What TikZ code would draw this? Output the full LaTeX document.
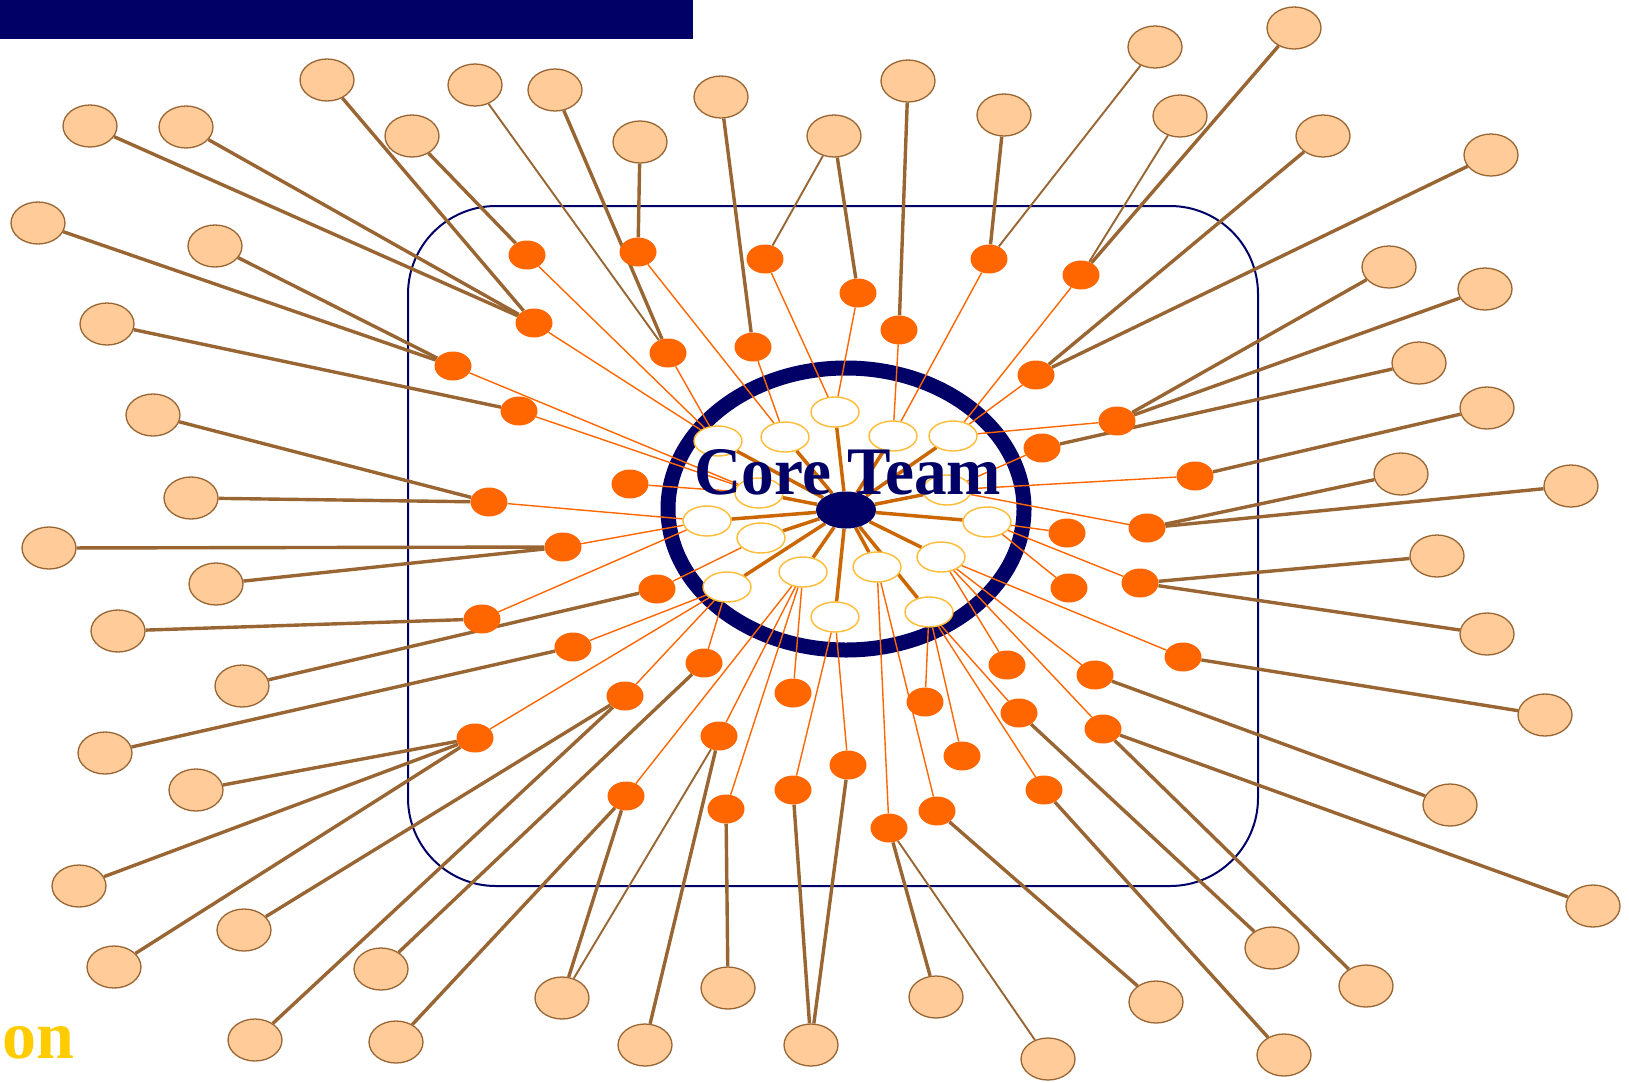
\documentclass[tikz,border=0pt]{standalone}
\usepackage{fontspec}
\usepackage{graphicx}
\setmainfont{Liberation Serif}
\usetikzlibrary{shapes.geometric}
\pgfdeclarelayer{bg}
\pgfdeclarelayer{lines}
\pgfsetlayers{bg,lines,main}
\definecolor{navy}{HTML}{000066}
\definecolor{orng}{HTML}{FF6600}
\definecolor{peachc}{HTML}{FFCC99}
\definecolor{brn}{HTML}{996633}
\definecolor{spk}{HTML}{CC6600}
\definecolor{goldc}{HTML}{FFBB33}
\definecolor{ontext}{HTML}{FFCC00}
\begin{document}
\begin{tikzpicture}[x=1pt,y=-1pt,
  peach/.style={ellipse, draw=brn, fill=peachc, line width=1.3pt, minimum width=54pt, minimum height=42pt, inner sep=0pt},
  odot/.style={ellipse, fill=orng, minimum width=37pt, minimum height=29pt, inner sep=0pt},
  innerell/.style={ellipse, draw=goldc, fill=white, line width=1.4pt, minimum width=48pt, minimum height=30pt, inner sep=0pt},
  hubst/.style={ellipse, fill=navy, minimum width=60pt, minimum height=37pt, inner sep=0pt},
  bline/.style={draw=brn, line width=3.4pt},
  bthin/.style={draw=brn, line width=1.9pt},
  oline/.style={draw=orng, line width=1.4pt},
  spoke/.style={draw=spk, line width=3.5pt},
  bigtext/.style={font=\bfseries\fontsize{68}{68}\selectfont, inner sep=0pt}
]
\useasboundingbox (0,0) rectangle (1629,1082);
\fill[navy] (0,0) rectangle (693,39);

\begin{pgfonlayer}{bg}
\draw[navy, line width=2pt, rounded corners=88pt] (408,206) rectangle (1258,886);
\draw[navy, line width=15pt] (846,509) ellipse [x radius=178pt, y radius=141pt];
\end{pgfonlayer}

% inner ellipses
\foreach \n/\x/\y in {1/718/441,2/785/437,3/835/412,4/893/436,5/953/436,6/759/493,7/947/490,8/707/521,9/761/538,10/987/522,11/941/557,12/727/587,13/803/572,14/877/567,15/835/617,16/929/612}
  \node[innerell] (I\n) at (\x,\y) {};
\node[hubst] (hub) at (846,510) {};

% orange dots
\foreach \n/\x/\y in {1/527/255,2/638/252,3/765/259,4/989/259,5/1081/275,6/534/323,7/858/293,8/899/330,9/453/366,10/668/353,11/753/347,12/1036/375,13/519/411,14/1117/421,15/1042/448,16/630/484,17/1195/476,18/489/502,19/1067/533,20/1147/528,21/563/547,22/1069/588,23/1140/583,24/657/589,25/482/619,26/573/647,27/1183/657,28/704/663,29/1007/665,30/1095/675,31/625/696,32/793/693,33/925/702,34/1019/713,35/1103/729,36/475/738,37/719/736,38/962/756,39/848/765,40/626/796,41/793/790,42/726/809,43/937/811,44/1044/790,45/889/828}
  \node[odot] (O\n) at (\x,\y) {};

% peach ellipses
\foreach \n/\x/\y in {1/327/80,2/475/85,3/555/90,4/721/97,5/908/81,6/1155/47,7/1294/28,8/90/126,9/186/127,10/412/136,11/640/142,12/834/136,13/1004/115,14/1180/116,15/1323/136,16/1491/155,17/38/223,18/215/246,19/107/324,20/1389/267,21/1485/289,22/1419/363,23/153/415,24/1487/408,25/191/498,26/1401/474,27/1571/486,28/49/548,29/216/584,30/1437/556,31/118/631,32/1487/634,33/242/686,34/1545/715,35/105/753,36/196/790,37/1450/805,38/79/886,39/1593/906,40/244/930,41/114/967,42/381/969,43/1272/948,44/1366/986,45/562/998,46/728/988,47/936/997,48/1156/1002,49/255/1040,50/396/1042,51/645/1045,52/811/1045,53/1048/1059,54/1284/1055}
  \node[peach] (P\n) at (\x,\y) {};

\begin{pgfonlayer}{lines}
\foreach \i in {1,...,16} \draw[spoke] (hub) -- (I\i);
\foreach \a/\b in {1/1,2/2,3/3,7/3,6/1,10/1,11/2,9/6,13/6,16/6,18/8,8/4,4/4,5/5,12/5,14/5,15/7,17/7,20/7,19/10,22/10,23/10,27/11,29/11,30/11,35/11,34/16,33/16,38/16,44/16,43/14,45/14,39/15,41/15,21/8,25/8,24/9,26/12,28/12,31/12,36/12,37/13,32/13,40/13,42/13}
  \draw[oline] (O\a) -- (I\b);
\foreach \a/\b in {1/6,8/6,9/6,10/1,3/10,11/2,4/11,12/7,5/8,13/4,7/5,15/12,16/12,20/14,21/14,22/15,24/17,26/20,27/20,30/23,32/23,34/27,37/30,39/35,44/35,43/34,54/44,48/43,47/45,52/39,52/41,46/42,51/37,45/40,50/40,42/28,49/31,40/31,41/36,38/36,36/36,35/26,33/24,31/25,29/21,28/21,25/18,23/18,19/13,18/9,17/9}
  \draw[bline] (P\a) -- (O\b);
\foreach \a/\b in {2/10,12/3,6/4,14/5,45/37,53/45}
  \draw[bthin] (P\a) -- (O\b);
\end{pgfonlayer}

\node[bigtext, text=navy, anchor=base] (core) at (848,494) {\scalebox{0.96}[1]{Core Team}};
\node[bigtext, text=ontext, anchor=base west] (on) at (2,1058) {on};
\end{tikzpicture}
\end{document}
